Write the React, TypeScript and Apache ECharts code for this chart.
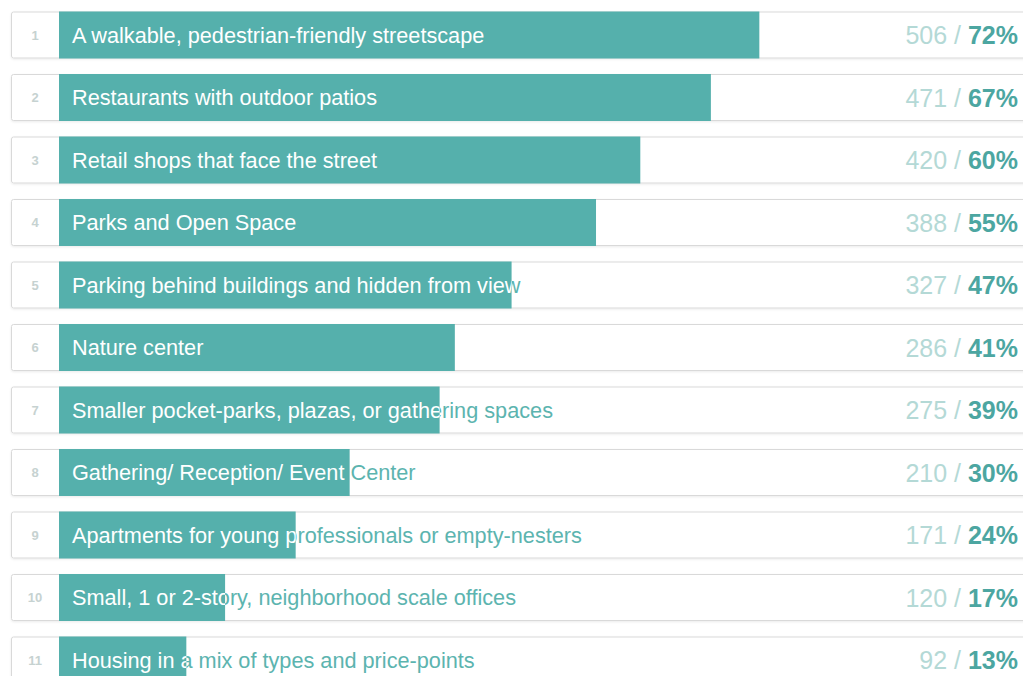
import React, { useEffect, useRef } from "react";
import * as echarts from "echarts";

const categories = [
  "A walkable, pedestrian-friendly streetscape",
  "Restaurants with outdoor patios",
  "Retail shops that face the street",
  "Parks and Open Space",
  "Parking behind buildings and hidden from view",
  "Nature center",
  "Smaller pocket-parks, plazas, or gathering spaces",
  "Gathering/ Reception/ Event Center",
  "Apartments for young professionals or empty-nesters",
  "Small, 1 or 2-story, neighborhood scale offices",
  "Housing in a mix of types and price-points",
];
const counts = [506, 471, 420, 388, 327, 286, 275, 210, 171, 120, 92];
const percents = [72, 67, 60, 55, 47, 41, 39, 30, 24, 17, 13];

export default function App() {
  const ref = useRef<HTMLDivElement>(null);
  useEffect(() => {
    document.body.style.margin = "0";
    const chart = echarts.init(ref.current!, null, { renderer: "svg" });
    const font = "Liberation Sans";
    const labelSize = 21.7;
    chart.setOption({
      animation: false,
      backgroundColor: "#ffffff",
      grid: { left: 59, top: 3.75, right: 0, bottom: 0 },
      xAxis: { type: "value", min: 0, max: 696.5, show: false },
      yAxis: {
        type: "value",
        inverse: true,
        min: -0.5,
        max: 10.256,
        show: false,
      },
      series: [
        {
          type: "custom",
          clip: false,
          data: counts.map((c, i) => [c, i]),
          encode: { x: 0, y: 1 },
          renderItem: (params: any, api: any) => {
            const i = api.value(1);
            const v = api.value(0);
            const start = api.coord([0, i]);
            const end = api.coord([v, i]);
            const W = api.getWidth();
            const h = 47;
            const y = start[1] - h / 2;
            const bw = end[0] - start[0];
            const pad = 13;
            return {
              type: "group",
              children: [
                {
                  type: "rect",
                  shape: { x: 11.5, y: y + 0.5, width: W, height: h - 1, r: 2 },
                  style: {
                    fill: "#ffffff",
                    stroke: "#d9d9d9",
                    lineWidth: 1,
                    shadowColor: "rgba(0,0,0,0.08)",
                    shadowBlur: 2,
                    shadowOffsetY: 1,
                  },
                },
                {
                  type: "text",
                  x: 35,
                  y: start[1],
                  style: {
                    text: String(i + 1),
                    fill: "#c6d2d1",
                    fontSize: 13,
                    fontWeight: "bold",
                    fontFamily: font,
                    align: "center",
                    verticalAlign: "middle",
                  },
                },
                {
                  type: "rect",
                  shape: { x: start[0], y, width: bw, height: h },
                  style: { fill: "#55b0ac" },
                },
                {
                  type: "text",
                  x: start[0] + pad,
                  y: start[1],
                  clipPath: {
                    type: "rect",
                    shape: { x: bw - pad, y: -h / 2, width: 2000, height: h },
                  },
                  style: {
                    text: categories[i],
                    fill: "#5cb4af",
                    fontSize: labelSize,
                    fontFamily: font,
                    align: "left",
                    verticalAlign: "middle",
                  },
                },
                {
                  type: "text",
                  x: start[0] + pad,
                  y: start[1],
                  clipPath: {
                    type: "rect",
                    shape: { x: -pad, y: -h / 2, width: bw, height: h },
                  },
                  style: {
                    text: categories[i],
                    fill: "#ffffff",
                    fontSize: labelSize,
                    fontFamily: font,
                    align: "left",
                    verticalAlign: "middle",
                  },
                },
                {
                  type: "text",
                  x: W - 5,
                  y: start[1],
                  style: {
                    text: `{a|${counts[i]} / }{b|${percents[i]}%}`,
                    align: "right",
                    verticalAlign: "middle",
                    rich: {
                      a: { fill: "#b4d9d6", fontSize: 25, fontFamily: font },
                      b: {
                        fill: "#4ca6a1",
                        fontSize: 25,
                        fontWeight: "bold",
                        fontFamily: font,
                      },
                    },
                  },
                },
              ],
            };
          },
        },
      ],
    });
    return () => chart.dispose();
  }, []);
  return <div ref={ref} style={{ width: 1023, height: 676 }} />;
}
